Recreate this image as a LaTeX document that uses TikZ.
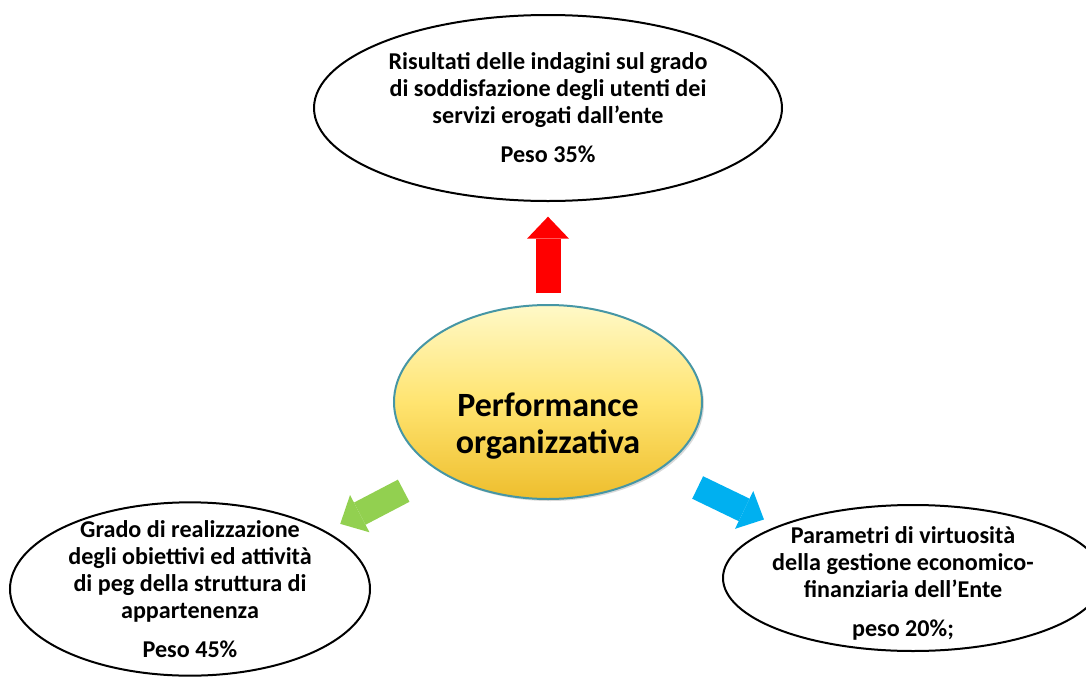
\documentclass[tikz,border=0pt]{standalone}
\usepackage{fontspec}
\setmainfont{Carlito}
\usetikzlibrary{arrows.meta,positioning,shapes.geometric,shadows}

\definecolor{arrowred}{RGB}{255,0,0}
\definecolor{arrowgreen}{RGB}{146,208,80}
\definecolor{arrowblue}{RGB}{0,176,240}
\definecolor{perftop}{RGB}{255,249,200}
\definecolor{perfmid}{RGB}{255,228,112}
\definecolor{perfbot}{RGB}{238,190,45}
\definecolor{perfedge}{RGB}{70,150,165}

\begin{document}
\begin{tikzpicture}[
    x=0.75pt, y=-0.75pt,
    every node/.style={font=\fontsize{18.1}{20.25}\selectfont\bfseries},
    goal/.style={draw, ellipse, line width=1.5pt, fill=white, inner sep=0pt},
    goaltext/.style={align=center, inner sep=0pt},
    core/.style={draw=perfedge, ellipse, line width=1.5pt, inner sep=0pt,
        top color=perftop, bottom color=perfbot, middle color=perfmid,
        minimum width=231pt, minimum height=145.5pt,
        drop shadow={shadow xshift=1.5pt, shadow yshift=-1.5pt, opacity=0.3}},
    coretext/.style={align=center, inner sep=0pt, font=\fontsize{25.5}{27.75}\selectfont\bfseries},
    blockarrow/.style={line width=18.75pt, -{Triangle[width=31.5pt, length=16.5pt, line width=0pt]}}
]
\useasboundingbox (0,0) rectangle (1086,682);
\node[goal, minimum width=351pt, minimum height=139.5pt] (satisf) at (548,108) {};
\node[goaltext] (satisfText) at (satisf) {Risultati delle indagini sul grado\\di soddisfazione degli utenti dei\\servizi erogati dall’ente\\[9pt]Peso 35\%};
\node[core] (perf) at (548,402) {};
\node[coretext] (perfText) at ([yshift=-18pt]perf) {Performance\\organizzativa};
\node[goal, minimum width=270pt, minimum height=130pt] (peg) at (190,589) {};
\node[goaltext] (pegText) at (peg) {Grado di realizzazione\\degli obiettivi ed attività\\di peg della struttura di\\appartenenza\\[9pt]Peso 45\%};
\node[goal, minimum width=285pt, minimum height=109.5pt] (econ) at (913,578) {};
\node[goaltext] (econText) at ([xshift=-7.5pt, yshift=-4pt]econ) {Parametri di virtuosità\\della gestione economico-\\finanziaria dell’Ente\\[9pt]peso 20\%;};
\draw[blockarrow, arrowred, shorten <=8pt, shorten >=11pt] (perf) -- (satisf);
\draw[blockarrow, arrowgreen, transform canvas={yshift=-10pt}, shorten <=21pt, shorten >=23pt] (perf) -- (peg);
\draw[blockarrow, arrowblue, transform canvas={yshift=-10pt}, shorten <=22pt, shorten >=24.5pt] (perf) -- (econ);
\end{tikzpicture}
\end{document}
